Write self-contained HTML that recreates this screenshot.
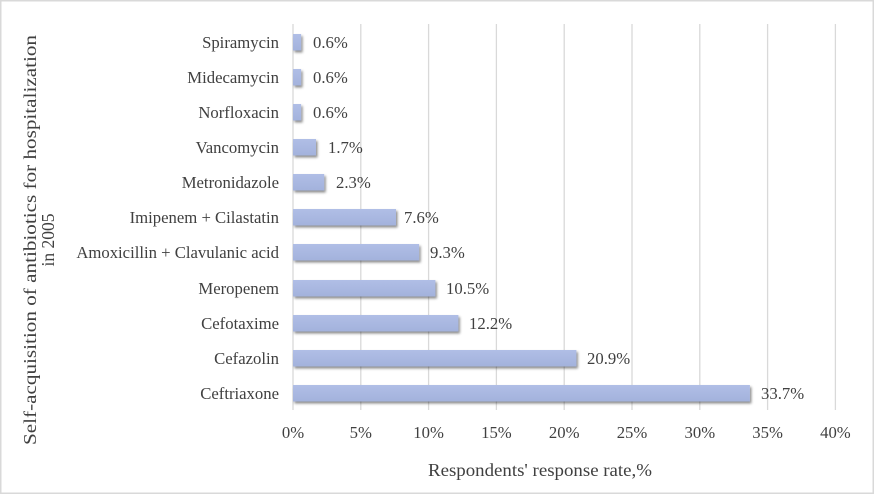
<!DOCTYPE html>
<html><head><style>
html,body{margin:0;padding:0;background:#fff}
svg{display:block}
text{font-family:"Liberation Serif",serif;fill:#404040}
</style></head><body>
<svg width="874" height="494" viewBox="0 0 874 494">
<defs>
<filter id="sh" x="-5%" y="-30%" width="115%" height="190%">
<feDropShadow dx="1.5" dy="2" stdDeviation="1.3" flood-color="#000" flood-opacity="0.45"/>
</filter>
<linearGradient id="g" x1="0" y1="0" x2="0" y2="1">
<stop offset="0" stop-color="#b0bee6"/><stop offset="1" stop-color="#a3b2dc"/>
</linearGradient>
</defs>
<rect x="0.75" y="0.75" width="872.5" height="492.5" fill="#fff" stroke="#d9d9d9" stroke-width="1.5"/>
<g stroke="#d9d9d9" stroke-width="1.3">
<line x1="293" y1="24" x2="293" y2="410"/>
<line x1="360.8" y1="24" x2="360.8" y2="410"/>
<line x1="428.6" y1="24" x2="428.6" y2="410"/>
<line x1="496.4" y1="24" x2="496.4" y2="410"/>
<line x1="564.2" y1="24" x2="564.2" y2="410"/>
<line x1="632" y1="24" x2="632" y2="410"/>
<line x1="699.8" y1="24" x2="699.8" y2="410"/>
<line x1="767.6" y1="24" x2="767.6" y2="410"/>
<line x1="835.4" y1="24" x2="835.4" y2="410"/>
</g>
<g font-size="16.7">
<g text-anchor="end">
<text x="279" y="48">Spiramycin</text>
<text x="279" y="83">Midecamycin</text>
<text x="279" y="118">Norfloxacin</text>
<text x="279" y="153">Vancomycin</text>
<text x="279" y="188">Metronidazole</text>
<text x="279" y="223">Imipenem + Cilastatin</text>
<text x="279" y="258">Amoxicillin + Clavulanic acid</text>
<text x="279" y="294">Meropenem</text>
<text x="279" y="329">Cefotaxime</text>
<text x="279" y="364">Cefazolin</text>
<text x="279" y="399">Ceftriaxone</text>
</g>
<g fill="url(#g)" filter="url(#sh)">
<rect x="293" y="34" width="8.1" height="16.5"/>
<rect x="293" y="69" width="8.1" height="16.5"/>
<rect x="293" y="104" width="8.1" height="16.5"/>
<rect x="293" y="139" width="23" height="16.5"/>
<rect x="293" y="174" width="31.2" height="16.5"/>
<rect x="293" y="209" width="103" height="16.5"/>
<rect x="293" y="244" width="126.1" height="16.5"/>
<rect x="293" y="280" width="142.4" height="16.5"/>
<rect x="293" y="315" width="165.4" height="16.5"/>
<rect x="293" y="350" width="283.4" height="16.5"/>
<rect x="293" y="385" width="456.9" height="16.5"/>
</g>
<text x="313" y="48">0.6%</text>
<text x="313" y="83">0.6%</text>
<text x="313" y="118">0.6%</text>
<text x="328" y="153">1.7%</text>
<text x="336" y="188">2.3%</text>
<text x="404" y="223">7.6%</text>
<text x="430" y="258">9.3%</text>
<text x="446" y="294">10.5%</text>
<text x="469" y="329">12.2%</text>
<text x="587" y="364">20.9%</text>
<text x="761" y="399">33.7%</text>
<g text-anchor="middle">
<text x="293" y="438">0%</text>
<text x="360.8" y="438">5%</text>
<text x="428.6" y="438">10%</text>
<text x="496.4" y="438">15%</text>
<text x="564.2" y="438">20%</text>
<text x="632" y="438">25%</text>
<text x="699.8" y="438">30%</text>
<text x="767.6" y="438">35%</text>
<text x="835.4" y="438">40%</text>
</g>
<text x="428" y="476" font-size="17.5" textLength="224" lengthAdjust="spacingAndGlyphs">Respondents' response rate,%</text>
<text transform="translate(36,445) rotate(-90)" font-size="17.5" textLength="410" lengthAdjust="spacingAndGlyphs">Self-acquisition  of antibiotics  for hospitalization</text>
<text transform="translate(54,240) rotate(-90)" font-size="17.5" text-anchor="middle">in 2005</text>
</g>
</svg>
</body></html>
